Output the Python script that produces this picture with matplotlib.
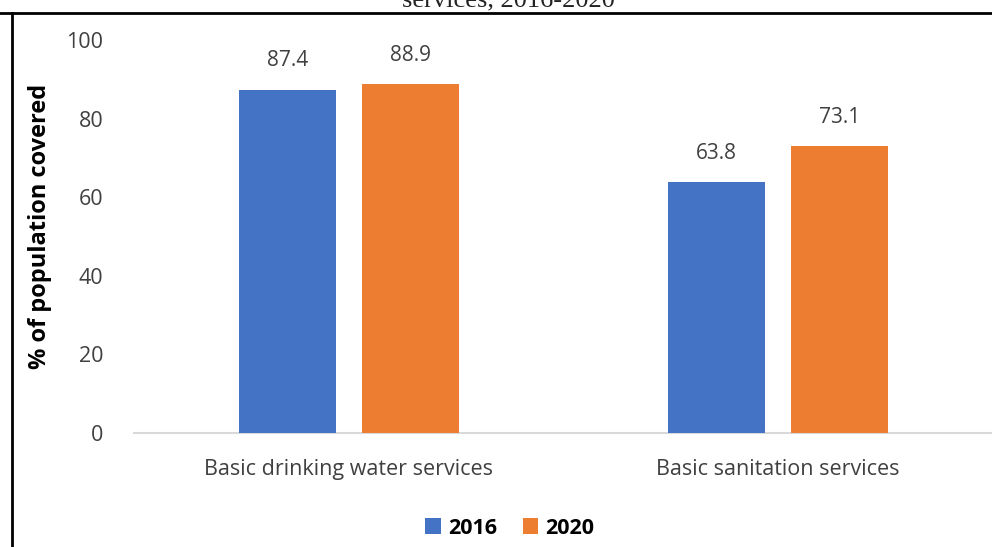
import numpy as np
import matplotlib
matplotlib.use("Agg")
import matplotlib.pyplot as plt
from matplotlib.lines import Line2D

# data
categories = ["Basic drinking water services", "Basic sanitation services"]
years = ["2016", "2020"]
vals_2016 = [87.4, 63.8]
vals_2020 = [88.9, 73.1]
yticks = [0, 20, 40, 60, 80, 100]

plt.rcParams['font.family'] = ['Open Sans', 'DejaVu Sans']

W, H = 992, 547
fig = plt.figure(figsize=(W / 100, H / 100), dpi=100)
ax = fig.add_axes([134 / W, (H - 433) / H, 859 / W, 393 / H])

x = np.arange(len(categories))
bw = 0.226
off = (bw + 0.06) / 2
b1 = ax.bar(x - off, vals_2016, bw, color="#4472C4", zorder=3)
b2 = ax.bar(x + off, vals_2020, bw, color="#ED7D31", zorder=3)

for bars, vals in [(b1, vals_2016), (b2, vals_2020)]:
    for r, v in zip(bars, vals):
        ax.annotate(f"{v:.1f}", (r.get_x() + r.get_width() / 2, v),
                    xytext=(0, 13), textcoords="offset points",
                    ha="center", va="bottom", fontsize=15, color="#404040")

ax.set_xlim(-0.5, 1.5)
ax.set_ylim(0, 100)
ax.set_yticks(yticks)
ax.set_xticks(x)
ax.set_xticklabels(categories)
ax.tick_params(axis="both", length=0, labelsize=15.5, colors="#404040")
ax.tick_params(axis="x", pad=19)
ax.tick_params(axis="y", pad=22)
for s in ["top", "right", "left"]:
    ax.spines[s].set_visible(False)
ax.spines["bottom"].set_color("#D9D9D9")
ax.spines["bottom"].set_linewidth(1.5)

fig.text(40 / W, 1 - 226 / H, "% of population covered", rotation=90,
         ha="center", va="center", fontsize=17, fontweight="bold", color="black")

# cropped title from the source page (only its lower edge shows)
fig.text(508 / W, 1 - 6 / H, "services, 2016-2020", ha="center", va="baseline",
         fontsize=19, family="Liberation Serif", color="#222222")

fig.legend([b1, b2], years, loc="center", bbox_to_anchor=(510 / W, 1 - 528 / H),
           ncol=2, frameon=False, handlelength=0.7, handleheight=0.7,
           handletextpad=0.35, columnspacing=1.2,
           prop={"weight": "bold", "size": 15.5})

# page border lines
fig.add_artist(Line2D([0, 1], [1 - 13 / H, 1 - 13 / H], color="black", lw=2,
                      transform=fig.transFigure))
fig.add_artist(Line2D([12 / W, 12 / W], [0, 1 - 13 / H], color="black", lw=2,
                      transform=fig.transFigure))

fig.savefig("out.png", dpi=100)
